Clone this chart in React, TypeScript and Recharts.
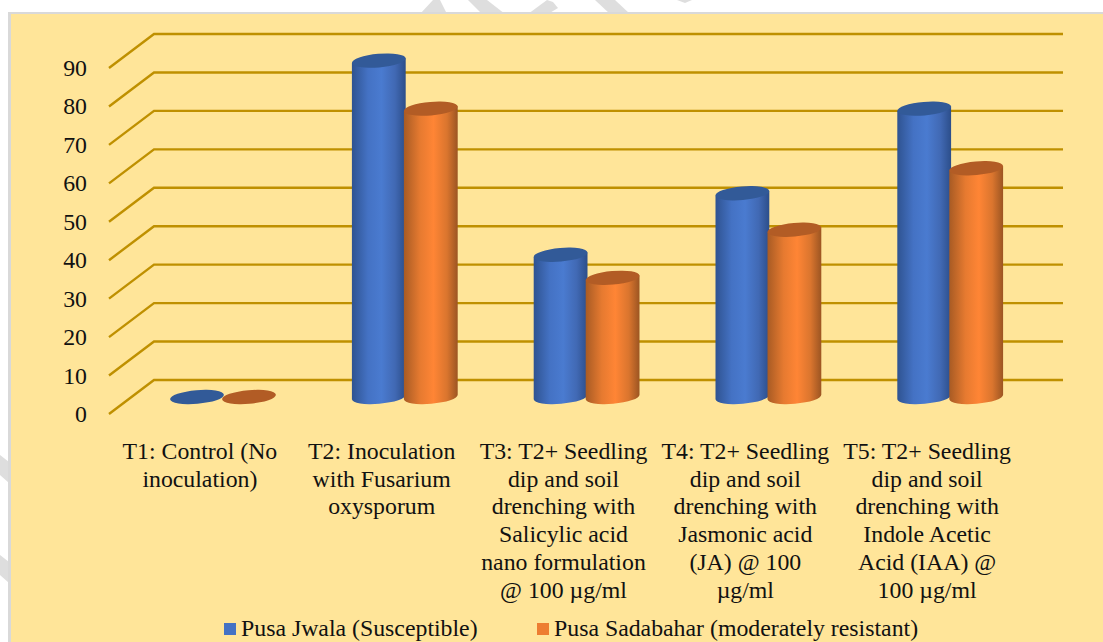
import { BarChart, Bar, XAxis, YAxis, Legend, CartesianGrid } from 'recharts';

const categories = [
    'T1: Control (No\ninoculation)',
    'T2: Inoculation\nwith Fusarium\noxysporum',
    'T3: T2+ Seedling\ndip and soil\ndrenching with\nSalicylic acid\nnano formulation\n@ 100 µg/ml',
    'T4: T2+ Seedling\ndip and soil\ndrenching with\nJasmonic acid\n(JA) @ 100\nµg/ml',
    'T5: T2+ Seedling\ndip and soil\ndrenching with\nIndole Acetic\nAcid (IAA) @\n100 µg/ml',
];
const pusaJwala = [0, 87.5, 37, 53, 75];
const pusaSadabahar = [0, 75, 31, 43.5, 59.5];
const yTicks = [0, 10, 20, 30, 40, 50, 60, 70, 80, 90];

const data = categories.map((name, i) => ({
    name,
    jwala: pusaJwala[i],
    sadabahar: pusaSadabahar[i],
}));

const TEXT = '#111111';
const FONT = '"Liberation Serif", serif';
const GRID = '#BF9000';

// fake 3d floor: every gridline runs from the front edge up to the back wall
function gridLine(p: any) {
    return <polyline key={p.key ?? p.y1} points={`109,${p.y1 + 17} 154,${p.y1 - 17} 1063,${p.y1 - 17}`} fill="none" stroke={GRID} strokeWidth={2.4} />;
}

function YTick({ y, payload }: any) {
    return <text x={87} y={y + 25} textAnchor="end" fontSize={23.8} fontFamily={FONT} fill={TEXT}>{payload.value}</text>;
}

function XTick({ x, payload }: any) {
    const lines = String(payload.value).split('\n');
    return (
        <text textAnchor="middle" fontSize={23.8} fontFamily={FONT} fill={TEXT}>
            {lines.map((l: string, i: number) => (
                <tspan key={i} x={x - 23} y={459 + i * 27.7}>{l}</tspan>
            ))}
        </text>
    );
}

// cylinder with a tilted elliptical cap
function Cylinder({ x, y, width, height, gradient, cap }: any) {
    const rx = width / 2;
    const ry = 6.8;
    const cx = x + rx;
    const tilt = 5;
    const dy = rx * Math.sin((tilt * Math.PI) / 180);
    const dx = rx * Math.cos((tilt * Math.PI) / 180);
    const body = `M${cx - dx} ${y + dy} L${cx - dx} ${y + height + dy} A${rx} ${ry} ${-tilt} 0 0 ${cx + dx} ${y + height - dy} L${cx + dx} ${y - dy} Z`;
    return (
        <g>
            {height > 0 && <path d={body} fill={`url(#${gradient})`} />}
            <ellipse cx={cx} cy={y} rx={rx} ry={ry} fill={cap} transform={`rotate(${-tilt} ${cx} ${y})`} />
        </g>
    );
}

function ChartLegend() {
    const item = (color: string, label: string, left: number) => (
        <div style={{ position: 'absolute', left, top: 0, display: 'flex', alignItems: 'center', whiteSpace: 'nowrap' }}>
            <span style={{ width: 12, height: 12, background: color, marginRight: 5, marginTop: 1 }}></span>
            <span>{label}</span>
        </div>
    );
    return (
        <div style={{ position: 'relative', height: 26, fontFamily: FONT, fontSize: 23.8, color: TEXT }}>
            {item('#4472C4', 'Pusa Jwala (Susceptible)', 224)}
            {item('#ED7D31', 'Pusa Sadabahar (moderately resistant)', 537)}
        </div>
    );
}

export default function App() {
    return (
        <div style={{ position: 'absolute', left: 0, top: 0, width: 1103, height: 642, overflow: 'hidden', background: '#fff' }}>
            {/* watermark scraps around the panel */}
            <svg width={1103} height={642} style={{ position: 'absolute', left: 0, top: 0 }}>
                <g fill="#dedede">
                    <polygon points="420,14 433,0 440,0 447,14" />
                    <polygon points="468,0 487,0 505,14 482,14" />
                    <polygon points="528,14 547,0 553,2 558,8 548,14" />
                    <polygon points="595,0 615,0 630,14 610,14" />
                    <polygon points="677,0 692,0 685,3" />
                    <polygon points="0,455 9,462 9,483 0,475" />
                    <polygon points="0,555 9,562 9,583 0,575" />
                </g>
            </svg>
            <div style={{ position: 'absolute', left: 8, top: 12, width: 1095, height: 630, boxSizing: 'border-box', background: '#FFE599', borderLeft: '3px solid #d9d9d9', borderTop: '2px solid #d9d9d9' }}></div>
            <div style={{ position: 'absolute', left: 0, top: 0 }}>
                <BarChart width={1103} height={642} data={data} margin={{ top: 51, right: 62, bottom: 218, left: 0 }} barSize={54} barGap={-2}>
                    <defs>
                        <linearGradient id="blueBody" x1="0" y1="0" x2="1" y2="0">
                            <stop offset="0" stopColor="#2F5391" />
                            <stop offset="0.3" stopColor="#4472C4" />
                            <stop offset="0.55" stopColor="#4A7BD0" />
                            <stop offset="0.8" stopColor="#4169B4" />
                            <stop offset="1" stopColor="#2C4E8A" />
                        </linearGradient>
                        <linearGradient id="orangeBody" x1="0" y1="0" x2="1" y2="0">
                            <stop offset="0" stopColor="#A85B24" />
                            <stop offset="0.3" stopColor="#E67A30" />
                            <stop offset="0.55" stopColor="#FF8535" />
                            <stop offset="0.8" stopColor="#DA752E" />
                            <stop offset="1" stopColor="#9C5522" />
                        </linearGradient>
                    </defs>
                    <CartesianGrid vertical={false} horizontal={gridLine} syncWithTicks />
                    <YAxis width={132} domain={[0, 90]} ticks={yTicks} axisLine={false} tickLine={false} tick={<YTick />} interval={0} />
                    <XAxis dataKey="name" height={1} axisLine={false} tickLine={false} tick={<XTick />} interval={0} />
                    <Legend content={<ChartLegend />} wrapperStyle={{ left: 0, top: 615, width: 1103 }} />
                    <Bar dataKey="jwala" name="Pusa Jwala (Susceptible)" fill="#4472C4" isAnimationActive={false} shape={(p: any) => <Cylinder {...p} gradient="blueBody" cap="#325A98" />} />
                    <Bar dataKey="sadabahar" name="Pusa Sadabahar (moderately resistant)" fill="#ED7D31" isAnimationActive={false} shape={(p: any) => <Cylinder {...p} gradient="orangeBody" cap="#B25C25" />} />
                </BarChart>
            </div>
        </div>
    );
}
